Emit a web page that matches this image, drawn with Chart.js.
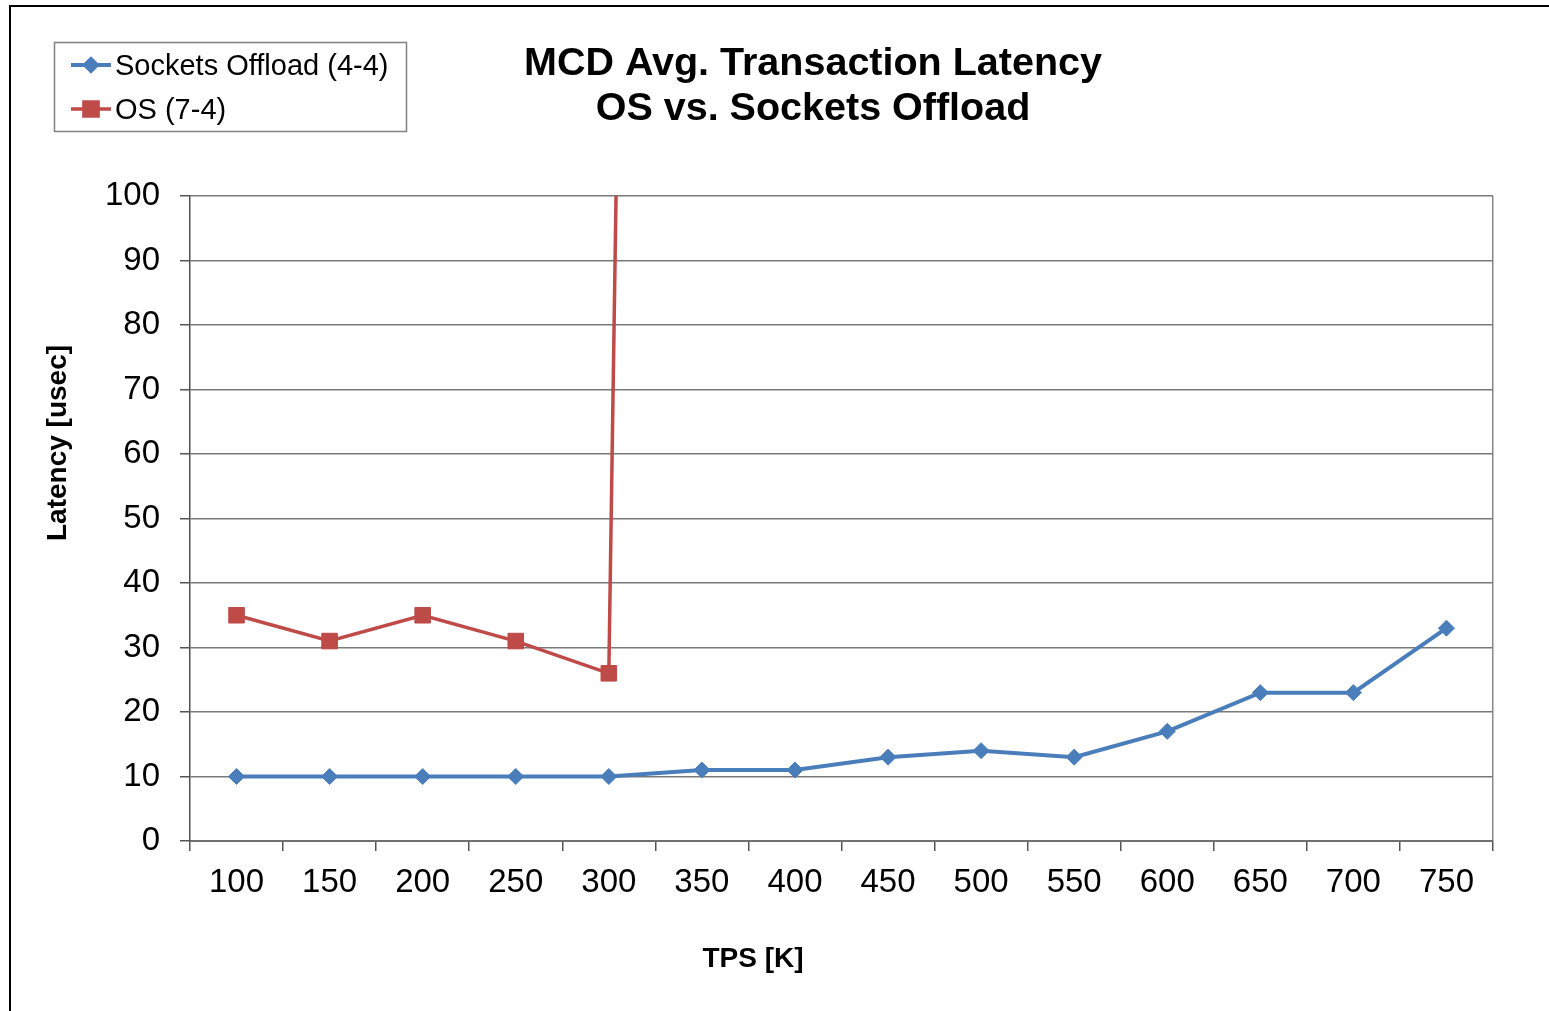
<!DOCTYPE html>
<html>
<head>
<meta charset="utf-8">
<script src="https://cdn.jsdelivr.net/npm/chart.js@4.4.1/dist/chart.umd.min.js"></script>
<style>
  html, body { margin: 0; padding: 0; background: #fff; overflow: hidden; }
  #frame { position: absolute; left: 9px; top: 5px; width: 1600px; height: 1100px; border-left: 2px solid #000; border-top: 2px solid #000; }
  #chart { position: absolute; left: 0; top: 0; }
</style>
</head>
<body>
<div id="frame"></div>
<canvas id="chart" width="1549" height="1011"></canvas>
<script>
// TPS [K] categories
const categories = ["100", "150", "200", "250", "300", "350", "400", "450", "500", "550", "600", "650", "700", "750"];
// average latency in usec
const socketsOffload = [10, 10, 10, 10, 10, 11, 11, 13, 14, 13, 17, 23, 23, 33];
const osLatency = [35, 31, 35, 31, 26, 980, null, null, null, null, null, null, null, null];
const yMin = 0;
const yMax = 100;
const yStep = 10;

const titleLines = ["MCD Avg. Transaction Latency", "OS vs. Sockets Offload"];
const xTitle = "TPS [K]";
const yTitle = "Latency [usec]";

const FONT = "'Liberation Sans', Arial, sans-serif";
Chart.defaults.font.family = FONT;
Chart.defaults.color = "#000";

// title, legend box, axis titles
const decor = {
  id: "decor",
  afterDraw(chart) {
    const ctx = chart.ctx;
    const area = chart.chartArea;
    ctx.save();

    // title
    ctx.font = "bold 39.5px " + FONT;
    ctx.fillStyle = "#000";
    ctx.textAlign = "center";
    ctx.textBaseline = "middle";
    titleLines.forEach((t, i) => ctx.fillText(t, 813, 64 + i * 45));

    // legend
    ctx.strokeStyle = "#808080";
    ctx.lineWidth = 1.5;
    ctx.strokeRect(54.5, 42.5, 352, 89);
    ctx.font = "29px " + FONT;
    ctx.textAlign = "left";
    const rows = [65, 109];
    const legendRadius = [6, 10];
    chart.data.datasets.forEach((ds, i) => {
      const y = rows[i];
      ctx.strokeStyle = ds.borderColor;
      ctx.lineWidth = ds.borderWidth;
      ctx.beginPath();
      ctx.moveTo(71, y);
      ctx.lineTo(111, y);
      ctx.stroke();
      ctx.fillStyle = ds.pointBackgroundColor;
      ctx.strokeStyle = ds.pointBorderColor;
      Chart.helpers.drawPoint(ctx, {
        pointStyle: ds.pointStyle,
        radius: legendRadius[i],
        rotation: 0,
        borderWidth: 1
      }, 91, y);
      ctx.fillStyle = "#000";
      ctx.fillText(ds.label, 115, y + 2);
    });

    // axis titles
    ctx.font = "bold 28px " + FONT;
    ctx.fillStyle = "#000";
    ctx.textAlign = "center";
    ctx.fillText(xTitle, area.left + 563, area.bottom + 118);
    ctx.translate(area.left - 132, area.top + 247);
    ctx.rotate(-Math.PI / 2);
    ctx.fillText(yTitle, 0, 0);
    ctx.restore();
  }
};

new Chart(document.getElementById("chart"), {
  type: "line",
  data: {
    labels: categories,
    datasets: [
      {
        label: "Sockets Offload (4-4)",
        data: socketsOffload,
        borderColor: "#4A7EBB",
        backgroundColor: "#4A7EBB",
        borderWidth: 4,
        pointStyle: "rectRot",
        pointRadius: 8,
        pointBackgroundColor: "#4A7EBB",
        pointBorderColor: "#4A7EBB",
        pointBorderWidth: 1,
        tension: 0,
      },
      {
        label: "OS (7-4)",
        data: osLatency,
        borderColor: "#BE4B48",
        backgroundColor: "#BE4B48",
        borderWidth: 3.5,
        pointStyle: "rect",
        pointRadius: 11,
        pointBackgroundColor: "#BE4B48",
        pointBorderColor: "#BE4B48",
        pointBorderWidth: 1,
        tension: 0,
      },
    ],
  },
  options: {
    responsive: false,
    animation: false,
    events: [],
    layout: {
      padding: { left: 0, right: 56, top: 196, bottom: 0 },
    },
    scales: {
      x: {
        offset: true,
        afterFit(scale) { scale.height = 170; },
        grid: {
          offset: true,
          color: (c) => (c.type === "scale" ? "#8a8a8a" : "rgba(0,0,0,0)"),
          lineWidth: 1.5,
          tickColor: "#555",
          tickWidth: 1.5,
          tickLength: 10,
        },
        border: { color: "#707070", width: 2 },
        ticks: {
          font: { size: 33 },
          color: "#000",
          padding: 12,
          maxRotation: 0,
          autoSkip: false,
        },
      },
      y: {
        min: yMin,
        max: yMax,
        afterFit(scale) { scale.width = 190; },
        grid: {
          color: "#7a7a7a",
          lineWidth: 1.5,
          tickColor: "#555",
          tickLength: 10,
        },
        border: { color: "#505050", width: 1.5 },
        ticks: {
          stepSize: yStep,
          font: { size: 33 },
          color: "#000",
          padding: 20,
        },
      },
    },
    plugins: {
      legend: { display: false },
      tooltip: { enabled: false },
      title: { display: false },
    },
  },
  plugins: [decor],
});
</script>
</body>
</html>
